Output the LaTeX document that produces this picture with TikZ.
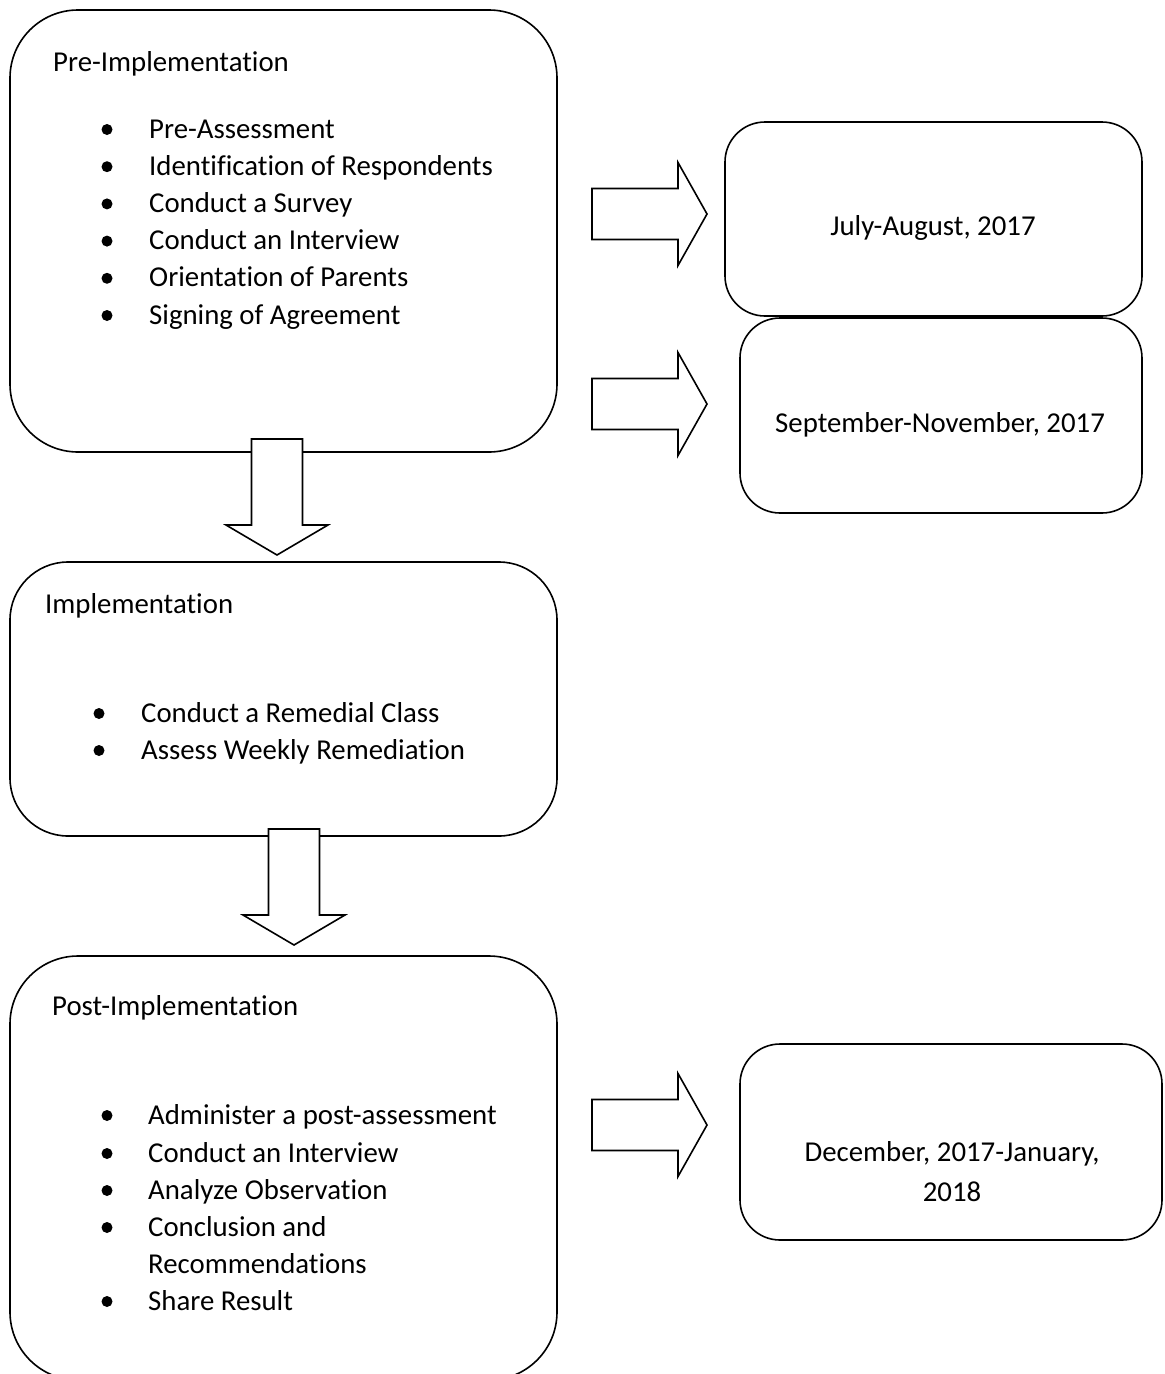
\documentclass[tikz,border=0pt]{standalone}
\usepackage{fontspec}
\setmainfont{Carlito}[Ligatures={NoCommon}]
\begin{document}
\begin{tikzpicture}[x=1pt,y=-1pt,
  box/.style={draw, line width=1.6pt, inner sep=0pt},
  lbl/.style={inner sep=0pt, anchor=base west, font=\fontsize{28.8}{34}\selectfont},
  ctr/.style={inner sep=0pt, align=center, font=\fontsize{28.8}{40}\selectfont},
  dot/.style={circle, fill=black, inner sep=0pt, minimum size=11pt},
  blk/.style={draw, line width=1.6pt, fill=white, line join=miter},
  rarrow/.pic={\draw[blk] (0,-25.5) -- (86,-25.5) -- (86,-51.5) -- (115,0) -- (86,51.5) -- (86,25.5) -- (0,25.5) -- cycle;},
  darrow/.pic={\draw[blk] (-25.5,0) -- (-25.5,86) -- (-51,86) -- (0,116) -- (51,86) -- (25.5,86) -- (25.5,0) -- cycle;}
]
\useasboundingbox (0,0) rectangle (1165,1374);
\clip (0,0) rectangle (1165,1374);

% main boxes
\node[box, rounded corners=68pt, minimum width=547pt, minimum height=442pt] (pre) at (283.5,231) {};
\node[box, rounded corners=58pt, minimum width=547pt, minimum height=274pt] (impl) at (283.5,699) {};
\node[box, rounded corners=68pt, minimum width=547pt, minimum height=424pt] (post) at (283.5,1168) {};

% date boxes
\node[box, rounded corners=40pt, minimum width=417pt, minimum height=194pt] (jul) at (933.5,219) {};
\node[box, rounded corners=40pt, minimum width=402pt, minimum height=195pt] (sep) at (941,415.5) {};
\node[box, rounded corners=40pt, minimum width=422pt, minimum height=196pt] (dec) at (951,1142) {};

% Pre-Implementation text
\node[lbl] (preh) at (53,71) {Pre-Implementation};
\foreach \t [count=\i] in {Pre-Assessment, Identification of Respondents, Conduct a Survey, Conduct an Interview, Orientation of Parents, Signing of Agreement}{
  \pgfmathsetmacro{\yy}{138+37.2*(\i-1)}
  \node[dot] (pred\i) at (107,\yy-8.5) {};
  \node[lbl] (pret\i) at (149,\yy) {\t};
}

% Implementation text
\node[lbl] (implh) at (45,613) {Implementation};
\node[dot] (impld1) at (99,713.5) {};
\node[lbl] (implt1) at (141,722) {Conduct a Remedial Class};
\node[dot] (impld2) at (99,750.5) {};
\node[lbl] (implt2) at (141,759) {Assess Weekly Remediation};

% Post-Implementation text
\node[lbl] (posth) at (52,1015) {Post-Implementation};
\node[dot] (postd1) at (107,1115.5) {};
\node[lbl] (postt1) at (148,1124) {Administer a post-assessment};
\node[dot] (postd2) at (107,1153.5) {};
\node[lbl] (postt2) at (148,1162) {Conduct an Interview};
\node[dot] (postd3) at (107,1190.5) {};
\node[lbl] (postt3) at (148,1199) {Analyze Observation};
\node[dot] (postd4) at (107,1227.5) {};
\node[lbl] (postt4) at (148,1236) {Conclusion and};
\node[lbl] (postt4b) at (148,1273) {Recommendations};
\node[dot] (postd5) at (107,1301.5) {};
\node[lbl] (postt5) at (148,1310) {Share Result};

% date texts
\node[ctr] (jult) at (933,228) {July-August, 2017};
\node[ctr] (sept) at (940,425) {September-November, 2017};
\node[ctr] (dect) at (952,1172) {December, 2017-January,\\2018};

% block arrows
\pic at (592,214) {rarrow};
\pic at (592,404) {rarrow};
\pic at (592,1125) {rarrow};
\pic at (277,439) {darrow};
\pic at (294,829) {darrow};
\end{tikzpicture}
\end{document}
